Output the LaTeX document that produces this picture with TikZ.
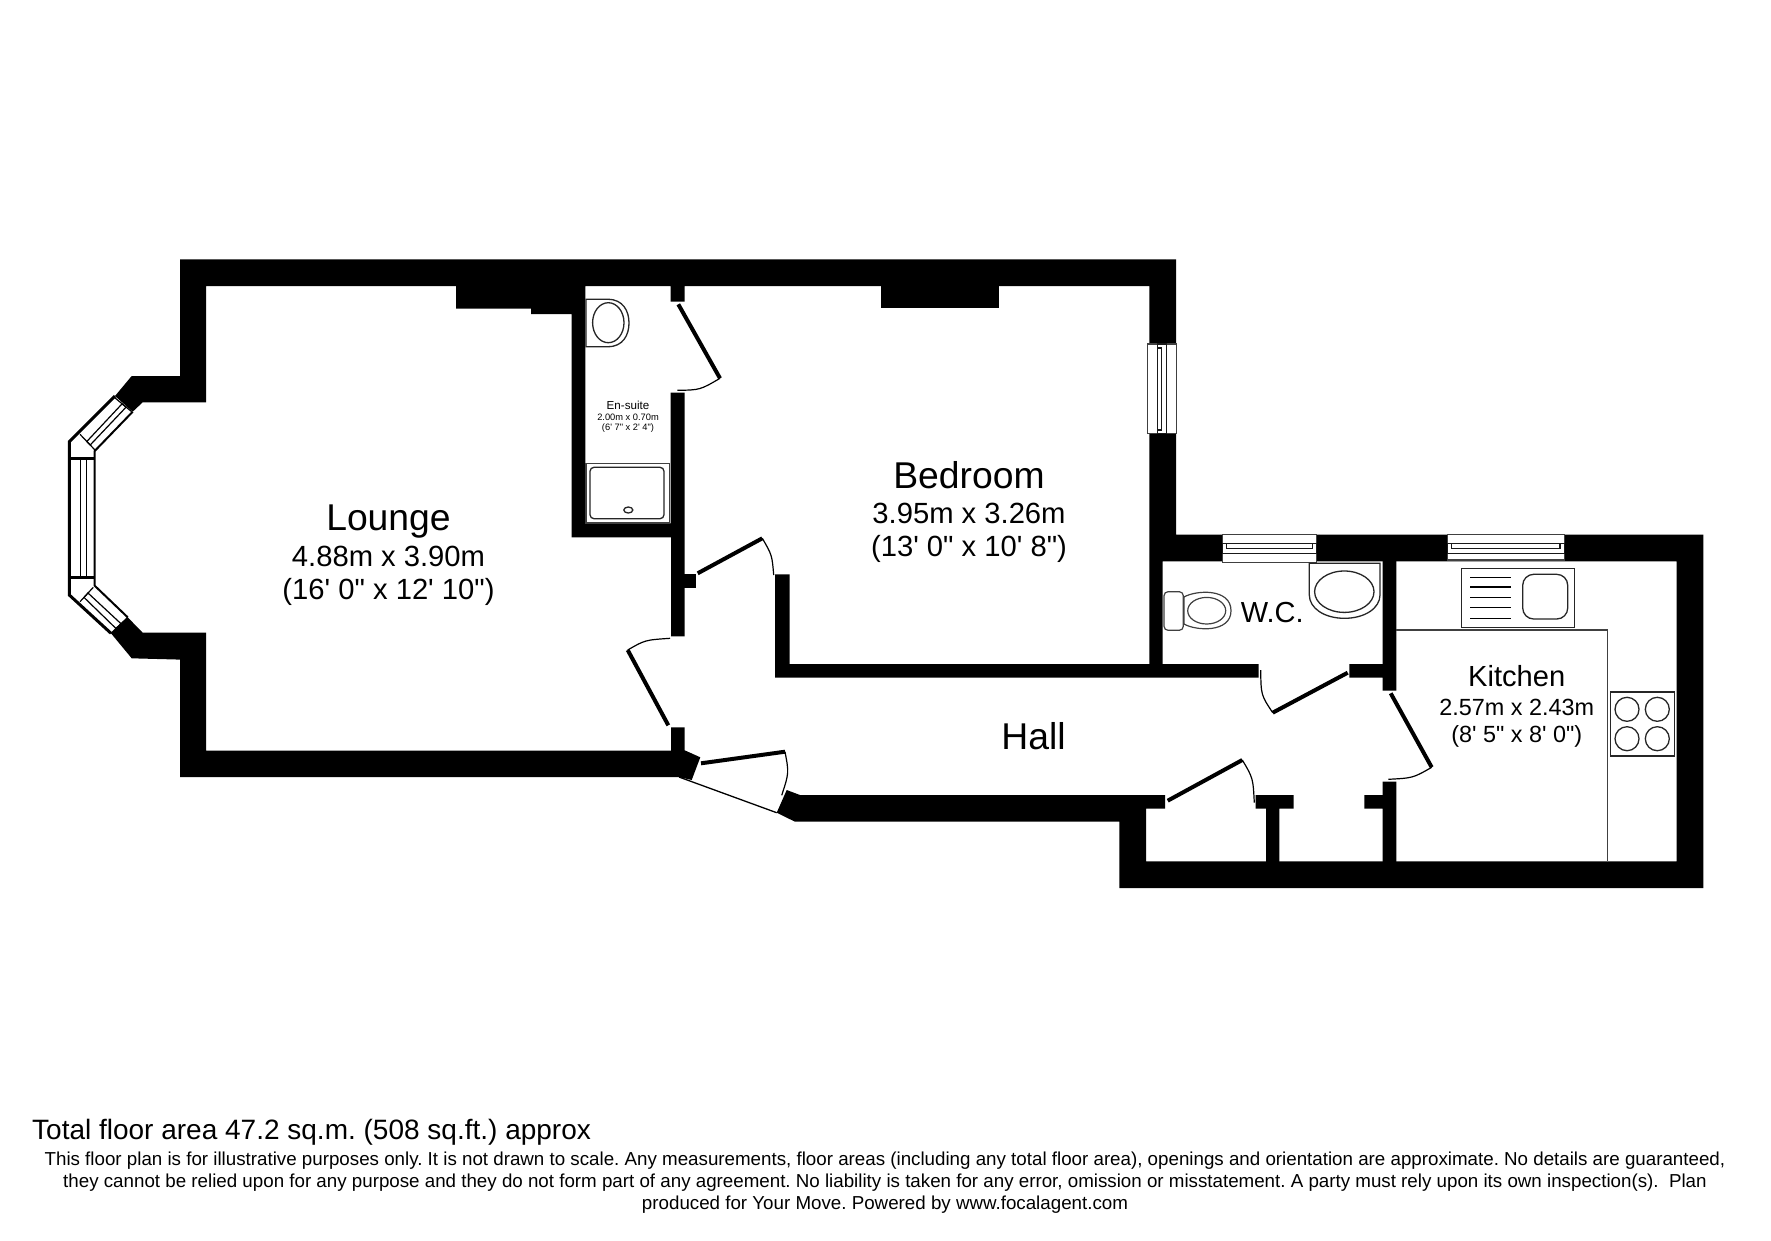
\documentclass[tikz,border=0pt]{standalone}
\usepackage{fontspec}
\setmainfont{Liberation Sans}
\newfontfamily\planfont{Liberation Sans}
\newcommand{\sized}[1]{\planfont\fontsize{#1}{#1}\selectfont\frenchspacing}
\usepackage{xcolor}
\usepackage{tikz}

\begin{document}
\begin{tikzpicture}[x=1pt, y=-1pt]
            % Define styles for the plan
            \tikzstyle{wall} = [fill=black, draw=none]
            \tikzstyle{leaf} = [draw, line width=4pt]
            \tikzstyle{swing} = [draw, line width=1.2pt]
            \tikzstyle{frame} = [draw=black!75, fill=white, line width=1.2pt]
            \tikzstyle{band} = [draw=black!90, fill=white, line width=1.3pt]
            \tikzstyle{fitting} = [draw=black!85, fill=white, line width=1.3pt]
            \tikzstyle{label} = [anchor=base, inner sep=0pt]

            \useasboundingbox (0,0) rectangle (1771,1240);

            % Outer shell with the top, bedroom, kitchen and hall walls
            \draw [wall] (115,396) -- (131.7,376) -- (180,376) -- (180,259.3) -- (1176,259.3) -- (1176,534.5)
                -- (1703.3,534.5) -- (1703.3,888) -- (1119.3,888) -- (1119.3,821.7) -- (795,821.7) -- (776.7,812.7)
                -- (786.7,790) -- (800,795) -- (1165,795) -- (1165,808.7) -- (1146,808.7) -- (1146,861.3)
                -- (1676.7,861.3) -- (1676.7,561.3) -- (1162.7,561.3) -- (1162.7,664) -- (1149.3,664) -- (1149.3,286)
                -- (684.7,286) -- (684.7,301.7) -- (670.7,301.7) -- (670.7,286) -- (585.3,286) -- (585.3,523.3)
                -- (670.7,523.3) -- (670.7,392.7) -- (684.7,392.7) -- (684.7,636.3) -- (671,636.3) -- (671,537.3)
                -- (571.7,537.3) -- (571.7,314) -- (531,314) -- (531,308.6) -- (456,308.6) -- (456,286) -- (206,286)
                -- (206,402.3) -- (142.7,402.3) -- (132.7,411.7) -- cycle;

            % Lower lounge wall
            \draw [wall] (127.7,617.3) -- (142.7,632.7) -- (206,632.7) -- (206,750.5) -- (671,750.5) -- (671,727.3)
                -- (684.7,727.3) -- (684.7,750.3) -- (700.3,757.3) -- (691.7,780) -- (679,777) -- (180,777)
                -- (180,659.6) -- (131.7,658.3) -- (111,633.3) -- cycle;

            % Inner walls
            \draw [wall] (881,286) rectangle (998.5,308.4);
            \draw [wall] (684,574.3) rectangle (695.7,588.3);
            \draw [wall] (775,574.3) -- (789.7,574.3) -- (789.7,664) -- (1258.7,664) -- (1258.7,677.7) -- (775,677.7) -- cycle;
            \draw [wall] (1349.3,664) -- (1382.7,664) -- (1382.7,561) -- (1396.3,561) -- (1396.3,690.7) -- (1382.7,690.7)
                -- (1382.7,677.7) -- (1349.3,677.7) -- cycle;
            \draw [wall] (1382.7,781.7) -- (1396.3,781.7) -- (1396.3,862) -- (1382.7,862) -- (1382.7,808.7) -- (1364.3,808.7)
                -- (1364.3,795) -- (1382.7,795) -- cycle;
            \draw [wall] (1255.7,795) -- (1293.7,795) -- (1293.7,808.7) -- (1279.3,808.7) -- (1279.3,862) -- (1266,862)
                -- (1266,808.7) -- (1255.7,808.7) -- cycle;

            % Bay window
            \draw [line width=3pt] (115,396) -- (69.3,441.7) -- (69.3,595) -- (111,633.3);
            \draw [line width=2pt] (132.7,411.7) -- (94.7,451) -- (94.7,585.7) -- (127.7,617.3);
            \draw [line width=2.5pt] (69.3,458.3) -- (94.7,458.3);
            \draw [line width=2.5pt] (69.3,577.3) -- (94.7,577.3);
            \draw [line width=1.2pt] (80.7,458.3) -- (80.7,577.3);
            \draw [line width=1.2pt] (86.7,458.3) -- (86.7,577.3);
            \draw [line width=1.2pt] (114.3,397.3) -- (131.7,411.7);
            \draw [line width=1.2pt] (80,434.3) -- (95,450);
            \draw [line width=1.2pt] (111,633.3) -- (127.7,617.3);
            \draw [line width=1.2pt] (80,601.7) -- (93.3,587.3);
            \draw [line width=1.2pt] (122.1,403.8) -- (126.1,407.1) -- (90.2,445) -- (86.8,441.5) -- cycle;
            \draw [line width=1.2pt] (116,628.5) -- (121,623.7) -- (88,593) -- (84,597.4) -- cycle;

            % Windows in the straight walls
            \draw [frame] (1147.7,344) rectangle (1176.7,433.3);
            \draw [band] (1157.3,344) rectangle (1166.7,433.3);
            \draw [band] (1157.3,348) rectangle (1161.3,430);
            \draw [frame] (1222.3,534.7) rectangle (1316.7,562.3);
            \draw [band] (1222.3,543.7) rectangle (1316.7,553.3);
            \draw [band] (1226.7,543.7) rectangle (1312.7,548.3);
            \draw [frame] (1447.3,534.7) rectangle (1564.3,560);
            \draw [band] (1447.3,543.3) rectangle (1564.3,553.3);
            \draw [band] (1451.7,543.3) rectangle (1560,548.3);

            % Doors
            \draw [leaf] (678.3,304.3) -- (720,378.3);
            \draw [swing] (720,378.3) .. controls (700,390) .. (677.3,390.3);
            \draw [leaf] (697.7,573.3) -- (762.3,538.3);
            \draw [swing] (762.3,538.3) .. controls (772,555) .. (773.7,575);
            \draw [leaf] (668.3,725.3) -- (627.7,650);
            \draw [swing] (627.7,650) .. controls (645,640) .. (670,638.3);
            \draw [leaf] (701,763.3) -- (785,751.7);
            \draw [swing] (785,751.7) .. controls (789,773) .. (781.7,795.3);
            \draw [line width=1.3pt] (679,777) -- (776.7,812.7);
            \draw [leaf] (1347.7,672.7) -- (1272.7,712.7);
            \draw [swing] (1272.7,712.7) .. controls (1261,695) .. (1260.7,670);
            \draw [leaf] (1167.7,800.7) -- (1242.3,760);
            \draw [swing] (1242.3,760) .. controls (1253,778) .. (1254.3,802.7);
            \draw [leaf] (1390.7,693.3) -- (1431.7,767.3);
            \draw [swing] (1431.7,767.3) .. controls (1413,778) .. (1388.3,779.3);

            % En-suite fittings
            \draw [fitting] (586,299.3) -- (608,299.3) .. controls (623,299.3) and (629,311) .. (629,323)
                .. controls (629,335) and (623,346.7) .. (608,346.7) -- (586,346.7) -- cycle;
            \draw [fitting] (608.3,322.7) ellipse [x radius=15.7, y radius=20];
            \draw [frame] (586,463.3) rectangle (669.3,523);
            \draw [fitting, rounded corners=4pt] (590,467.3) rectangle (664,518.7);
            \draw [fitting] (628.3,510) ellipse [x radius=4.5, y radius=3];

            % W.C. fittings
            \draw [fitting] (1309.3,563.3) -- (1380,563.3) -- (1380,595) .. controls (1380,608) and (1365,618.3) .. (1344.5,618.3)
                .. controls (1324,618.3) and (1309.3,608) .. (1309.3,595) -- cycle;
            \draw [fitting] (1344.3,591.7) ellipse [x radius=29.7, y radius=20.7];
            \draw [frame] (1184,597) .. controls (1196,590) and (1231,588) .. (1231,610.7)
                .. controls (1231,633) and (1196,631) .. (1184,624) -- cycle;
            \draw [frame] (1206.7,610.7) ellipse [x radius=19, y radius=13.3];
            \draw [frame, rounded corners=4pt] (1164,591.7) rectangle (1183.3,630.3);

            % Kitchen fittings
            \draw [frame] (1396.3,630) -- (1607.7,630) -- (1607.7,861.3);
            \draw [fitting, line width=1.5pt] (1461.3,568.7) rectangle (1574.3,627.7);
            \draw [fitting, rounded corners=11pt] (1522.7,574.3) rectangle (1567.7,619);
            \foreach \y in {577.3,587,597.3,607.7,618.3} {
                \draw [line width=1.2pt] (1470,\y) -- (1510.7,\y);
            }
            \draw [fitting, line width=1.5pt] (1610.7,692) rectangle (1674.7,756);
            \foreach \x in {1627,1657.3} {
                \foreach \y in {709.3,738.7} {
                    \draw [fitting] (\x,\y) circle [radius=12];
                }
            }

            % Room labels
            \node [label, font=\sized{37.3}] (lounge) at (388.5,530.5) {Lounge};
            \node [label, font=\sized{29.2}] (loungesize) at (388.5,566.8) {4.88m x 3.90m};
            \node [label, font=\sized{29.2}] (loungefeet) at (388.5,599) {(16' 0" x 12' 10")};
            \node [label, font=\sized{37.3}] (bedroom) at (969,488) {Bedroom};
            \node [label, font=\sized{29.2}] (bedroomsize) at (969,523) {3.95m x 3.26m};
            \node [label, font=\sized{29.2}] (bedroomfeet) at (969,556) {(13' 0" x 10' 8")};
            \node [label, font=\sized{37.3}] (hall) at (1033.5,749) {Hall};
            \node [label, font=\sized{29.1}] (kitchen) at (1516.7,686.7) {Kitchen};
            \node [label, font=\sized{23.4}] (kitchensize) at (1516.7,715) {2.57m x 2.43m};
            \node [label, font=\sized{23.4}] (kitchenfeet) at (1516.7,742.7) {(8' 5" x 8' 0")};
            \node [label, font=\sized{29}] (wc) at (1272.3,622.2) {W.C.};
            \node [label, font=\sized{11.6}] (ensuite) at (628,409.3) {En-suite};
            \node [label, font=\sized{9.3}] (ensuitesize) at (628,420) {2.00m x 0.70m};
            \node [label, font=\sized{9.3}] (ensuitefeet) at (628,430.7) {(6' 7" x 2' 4")};

            % Footer
            \node [anchor=base west, inner sep=0pt, font=\sized{28}] (total) at (32,1139) {Total floor area 47.2 sq.m. (508 sq.ft.) approx};
            \node [anchor=north, inner sep=0pt, align=center, font=\planfont\fontsize{18.75}{21.9}\selectfont\frenchspacing] (notice) at (885,1152) {This floor plan is for illustrative purposes only. It is not drawn to scale. Any measurements, floor areas (including any total floor area), openings and orientation are approximate. No details are guaranteed,\\they cannot be relied upon for any purpose and they do not form part of any agreement. No liability is taken for any error, omission or misstatement. A party must rely upon its own inspection(s).\ \ Plan\\produced for Your Move. Powered by www.focalagent.com};
        \end{tikzpicture}
\end{document}
